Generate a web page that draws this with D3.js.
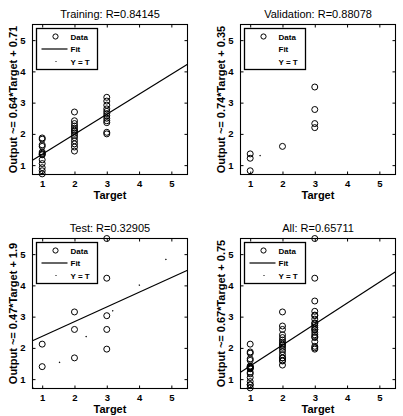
<!DOCTYPE html>
<html>
<head>
<meta charset="utf-8">
<script src="https://cdn.jsdelivr.net/npm/d3@7/dist/d3.min.js"></script>
<style>
  html, body { margin: 0; padding: 0; background: #fff; }
  svg { display: block; font-family: "Liberation Sans", Arial, sans-serif; }
</style>
</head>
<body>
<svg id="chart" width="403" height="416"></svg>
<script>
// ---- data ----
const panelNames = ["Training", "Validation", "Test", "All"];
const panelR = ["0.84145", "0.88078", "0.32905", "0.65711"];
const fitSlopes = [0.64, 0.74, 0.47, 0.67];
const fitIntercepts = [0.71, 0.35, 1.9, 0.75];
const fitVisible = [true, false, true, true];
const axisDomain = [0.7, 5.5];
const tickValues = [1, 2, 3, 4, 5];
const legendLabels = ["Data", "Fit", "Y = T"];

const trainTargets = [1,1,1,1,1,1,1,1,1,1,1,1,1,
  2,2,2,2,2,2,2,2,2,2,2,2,2,2,
  3,3,3,3,3,3,3,3,3,3,3,3];
const trainOutputs = [1.87,1.83,1.65,1.6,1.42,1.38,1.35,1.33,1.17,1.05,0.92,0.82,0.72,
  2.7,2.42,2.33,2.25,2.18,2.12,2.08,2.02,1.95,1.88,1.78,1.68,1.58,1.45,
  3.17,3.05,2.92,2.8,2.72,2.65,2.58,2.5,2.42,2.36,2.05,2.0];
const valTargets = [1,1,1,2,3,3,3,3];
const valOutputs = [1.36,1.22,0.82,1.6,3.5,2.78,2.33,2.2];
const testTargets = [1,1,2,2,2,3,3,3,3,3];
const testOutputs = [2.12,1.4,3.15,2.59,1.68,5.5,4.23,3.03,2.59,1.96];

// ---- layout ----
const svg = d3.select("#chart");
const boxW = 155, boxH = 150;
const lefts = [32.5, 240.5, 32.5, 240.5];
const tops = [24.5, 24.5, 238.5, 238.5];
const dotDash = [null, "1.3 1000", "1.3 35.7", null];
const dotOffsets = [0, -26.6, 0, 0];

const sets = [
  {t: trainTargets, o: trainOutputs},
  {t: valTargets, o: valOutputs},
  {t: testTargets, o: testOutputs},
  {t: trainTargets.concat(valTargets, testTargets), o: trainOutputs.concat(valOutputs, testOutputs)}
];

panelNames.forEach((name, i) => {
  const g = svg.append("g").attr("transform", `translate(${lefts[i]},${tops[i]})`);
  const x = d3.scaleLinear().domain(axisDomain).range([0, boxW]);
  const y = d3.scaleLinear().domain(axisDomain).range([boxH, 0]);

  const axB = d3.axisBottom(x).tickValues(tickValues).tickSizeInner(-3).tickSizeOuter(0).tickPadding(6).tickFormat(d3.format("d"));
  const axL = d3.axisLeft(y).tickValues(tickValues).tickSizeInner(-3).tickSizeOuter(0).tickPadding(7).tickFormat(d3.format("d"));
  const axT = d3.axisTop(x).tickValues(tickValues).tickSizeInner(-3).tickSizeOuter(0).tickFormat("");
  const axR = d3.axisRight(y).tickValues(tickValues).tickSizeInner(-3).tickSizeOuter(0).tickFormat("");

  const styleAxis = sel => {
    sel.select(".domain").remove();
    sel.selectAll("line").attr("stroke", "#000");
    sel.selectAll("text").attr("font-size", 9.5).attr("font-weight", "bold").attr("fill", "#000")
      .attr("font-family", "'Liberation Sans', Arial, sans-serif");
  };
  g.append("g").attr("transform", `translate(0,${boxH})`).call(axB).call(styleAxis);
  g.append("g").call(axL).call(styleAxis);
  g.append("g").call(axT).call(styleAxis);
  g.append("g").attr("transform", `translate(${boxW},0)`).call(axR).call(styleAxis);

  const clipId = "clip" + i;
  g.append("clipPath").attr("id", clipId).append("rect").attr("x", -4).attr("y", -4).attr("width", boxW + 8).attr("height", boxH + 8);
  const plot = g.append("g").attr("clip-path", `url(#${clipId})`);

  // Y = T line (dotted)
  if (dotDash[i]) {
    plot.append("line")
      .attr("x1", x(axisDomain[0])).attr("y1", y(axisDomain[0]))
      .attr("x2", x(axisDomain[1])).attr("y2", y(axisDomain[1]))
      .attr("stroke", "#000").attr("stroke-width", 1.3)
      .attr("stroke-dasharray", dotDash[i]).attr("stroke-dashoffset", dotOffsets[i]);
  }

  const pts = sets[i].t.map((t, k) => ({t, o: sets[i].o[k]}));
  plot.selectAll("circle.pt").data(pts).enter().append("circle")
    .attr("cx", d => x(d.t)).attr("cy", d => y(d.o)).attr("r", 3)
    .attr("fill", "none").attr("stroke", "#000").attr("stroke-width", 1);

  if (fitVisible[i]) {
    const f = v => fitSlopes[i] * v + fitIntercepts[i];
    plot.append("line")
      .attr("x1", x(axisDomain[0])).attr("y1", y(f(axisDomain[0])))
      .attr("x2", x(axisDomain[1])).attr("y2", y(f(axisDomain[1])))
      .attr("stroke", "#000").attr("stroke-width", 1.2);
  }

  g.append("rect").attr("width", boxW).attr("height", boxH).attr("fill", "none").attr("stroke", "#000").attr("stroke-width", 1.1);

  g.append("text").attr("x", boxW / 2).attr("y", -7).attr("text-anchor", "middle")
    .attr("font-size", 11).attr("fill", "#000").text(`${name}: R=${panelR[i]}`);
  g.append("text").attr("x", boxW / 2).attr("y", boxH + 24).attr("text-anchor", "middle")
    .attr("font-size", 11).attr("font-weight", "bold").attr("fill", "#000").text("Target");
  g.append("text").attr("transform", `translate(-16,${boxH / 2}) rotate(-90)`).attr("text-anchor", "middle")
    .attr("font-size", 11).attr("font-weight", "bold").attr("fill", "#000")
    .text(`Output ~= ${fitSlopes[i]}*Target + ${fitIntercepts[i]}`);

  const lg = g.append("g").attr("transform", "translate(4,4)");
  lg.append("rect").attr("width", 61).attr("height", 41).attr("fill", "#fff").attr("stroke", "#000").attr("stroke-width", 1.3);
  const rowY = [8, 20.5, 33];
  legendLabels.forEach((lab, k) => {
    lg.append("text").attr("x", 34).attr("y", rowY[k] + 3).attr("font-size", 8).attr("font-weight", "bold")
      .attr("fill", "#000").text(lab);
  });
  lg.append("circle").attr("cx", 19).attr("cy", rowY[0]).attr("r", 2.6).attr("fill", "none").attr("stroke", "#000");
  if (fitVisible[i]) {
    lg.append("line").attr("x1", 5).attr("x2", 31).attr("y1", rowY[1]).attr("y2", rowY[1]).attr("stroke", "#000").attr("stroke-width", 1.2);
  }
  if (i !== 1) {
    lg.append("rect").attr("x", 19).attr("y", rowY[2] - 0.5).attr("width", 1).attr("height", 1).attr("fill", "#000");
  }
});
</script>
</body>
</html>
